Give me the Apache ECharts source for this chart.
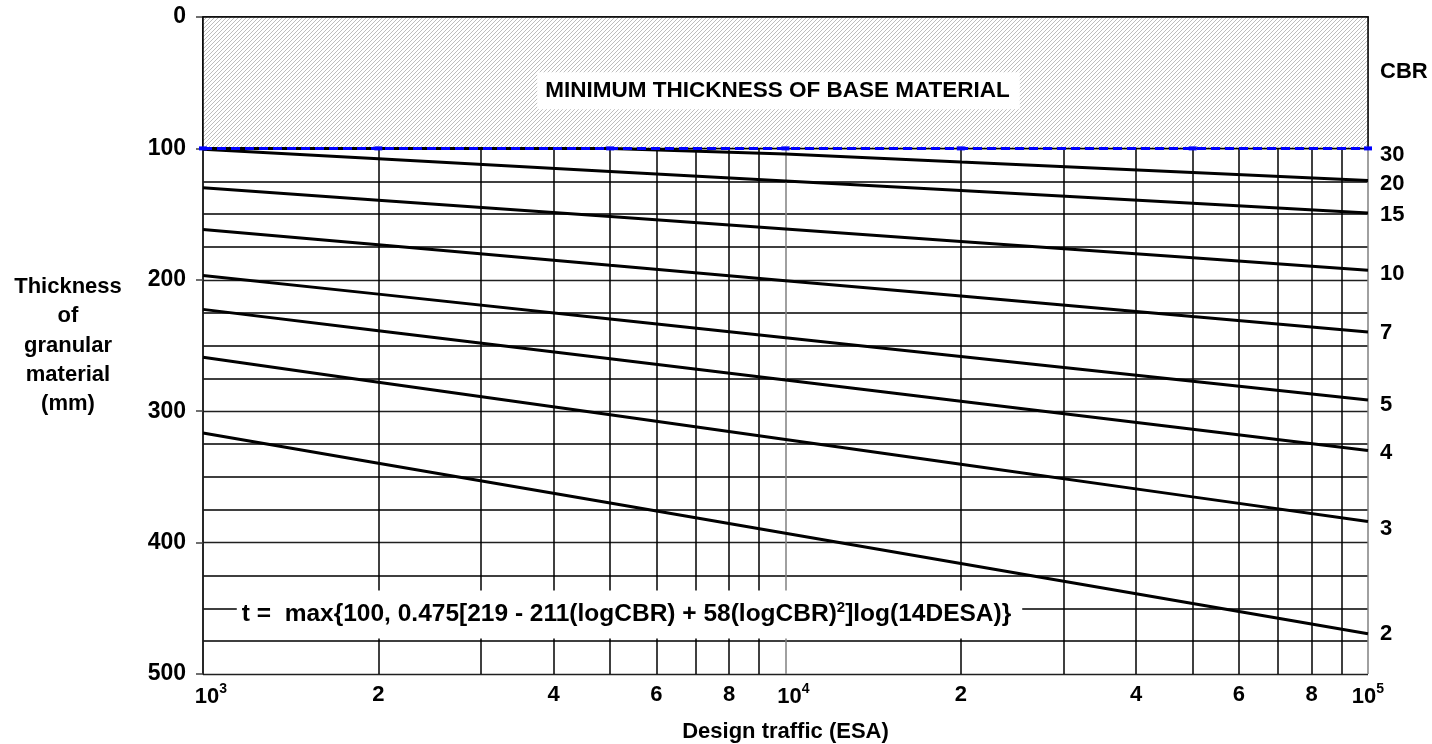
<!DOCTYPE html>
<html><head><meta charset="utf-8">
<script src="https://cdn.jsdelivr.net/npm/echarts@6/dist/echarts.min.js"></script>
<style>html,body{margin:0;padding:0;background:#fff}#c{width:1432px;height:744px}</style>
</head><body><div id="c"></div>
<script>
// ---- data ----
const traffic = [1000, 2000, 5000, 10000, 20000, 50000, 100000];   // design traffic (ESA)
const cbr30 = [100, 100, 100, 100, 100, 100, 100];
const cbr20 = [100, 100, 100, 104.3, 110.4, 118.4, 124.5];
const cbr15 = [100.6, 107.9, 117.5, 124.8, 132.1, 141.8, 149.1];
const cbr10 = [130.0, 139.4, 151.9, 161.3, 170.8, 183.2, 192.7];
const cbr7  = [161.7, 173.4, 189.0, 200.7, 212.4, 228.0, 239.7];
const cbr5  = [196.7, 210.9, 229.8, 244.1, 258.4, 277.2, 291.5];
const cbr4  = [222.5, 238.7, 260.0, 276.2, 292.4, 313.7, 329.9];
const cbr3  = [259.0, 277.9, 302.7, 321.5, 340.3, 365.2, 384.0];
const cbr2  = [316.6, 339.6, 369.9, 392.9, 415.9, 446.3, 469.3];
const cbrNames = ['20', '15', '10', '7', '5', '4', '3', '2'];
const cbrSeries = [cbr20, cbr15, cbr10, cbr7, cbr5, cbr4, cbr3, cbr2];
const xLabelValues = [1000, 2000, 4000, 6000, 8000, 10000, 20000, 40000, 60000, 80000, 100000];
const xMinorGrid = [2000, 3000, 4000, 5000, 6000, 7000, 8000, 9000, 20000, 30000, 40000, 50000, 60000, 70000, 80000, 90000];
const yMin = 0, yMax = 500, yStep = 100;
const minLabel = 'MINIMUM THICKNESS OF BASE MATERIAL';
const formulaText = 't =  max{100, 0.475[219 - 211(logCBR) + 58(logCBR){s|2}]log(14DESA)}';
const yName = 'Thickness\nof\ngranular\nmaterial\n(mm)';
const xName = 'Design traffic (ESA)';

// ---- styling ----
const FONT = '"Liberation Sans", Arial, Helvetica, sans-serif';
const labelDy = {'30': 7, '20': 3, '15': 2, '10': 4, '7': 1, '5': 5, '4': 2, '3': 7, '2': 0};

function hatchCanvas() {
  const c = document.createElement('canvas');
  c.width = 4; c.height = 4;
  const g = c.getContext('2d');
  g.fillStyle = '#ffffff'; g.fillRect(0, 0, 4, 4);
  g.strokeStyle = '#bdbdbd'; g.lineWidth = 1;
  g.beginPath();
  g.moveTo(0, 4); g.lineTo(4, 0);
  g.moveTo(-1, 1); g.lineTo(1, -1);
  g.moveTo(3, 5); g.lineTo(5, 3);
  g.stroke();
  return c;
}

const pairs = arr => traffic.map((t, i) => [t, arr[i]]);

const chart = echarts.init(document.getElementById('c'), null, {renderer: 'canvas'});

const series = [];
// minor vertical grid lines
series.push({
  type: 'line', name: 'grid', data: [], z: 1, silent: true,
  markLine: {
    silent: true, symbol: ['none', 'none'], animation: false, z: 1,
    label: {show: false},
    lineStyle: {color: '#000', width: 1.5, type: 'solid'},
    emphasis: {disabled: true},
    data: xMinorGrid.map(v => ({xAxis: v}))
  }
});
// hatched minimum-thickness band
series.push({
  type: 'line', name: 'hatch', data: [], z: 2, silent: true,
  markArea: {
    silent: true, animation: false, z: 2,
    itemStyle: {color: {image: hatchCanvas(), repeat: 'repeat'}, borderColor: '#000', borderWidth: 1.5, opacity: 1},
    label: {
      show: true, position: 'inside', formatter: minLabel, offset: [-7, 8],
      color: '#000', fontFamily: FONT, fontWeight: 'bold', fontSize: 22.5,
      backgroundColor: '#fff', padding: [7, 10, 7, 8]
    },
    emphasis: {disabled: true},
    data: [[{xAxis: traffic[0], yAxis: 0}, {xAxis: traffic[traffic.length - 1], yAxis: 100}]]
  }
});
cbrSeries.forEach((arr, i) => {
  const nm = cbrNames[i];
  series.push({
    type: 'line', name: nm, data: pairs(arr), z: 3,
    showSymbol: false, symbol: 'none', silent: true, animation: false,
    lineStyle: {color: '#000', width: 3},
    endLabel: {
      show: true, formatter: nm, distance: 12, offset: [0, labelDy[nm]],
      color: '#000', fontFamily: FONT, fontWeight: 'bold', fontSize: 22
    }
  });
});
series.push({
  type: 'line', name: '30', data: pairs(cbr30), z: 10,
  showSymbol: true, symbol: 'rect', symbolSize: [8, 4], silent: true, animation: false,
  itemStyle: {color: '#0000ff'},
  lineStyle: {color: '#0000ff', width: 3, type: [9, 5]},
  endLabel: {
    show: true, formatter: '30', distance: 12, offset: [0, labelDy['30']],
    color: '#000', fontFamily: FONT, fontWeight: 'bold', fontSize: 22
  }
});

function xFmt(v) {
  const e = Math.round(Math.log10(v));
  if (Math.abs(v - Math.pow(10, e)) < 1e-6 * v) {
    return (e < 5 ? '{bs|10}' : '{b|10}') + '{s|' + e + '}';
  }
  const p = Math.pow(10, Math.floor(Math.log10(v) + 1e-9));
  return '{n|' + Math.round(v / p) + '}';
}

const option = {
  backgroundColor: '#fff',
  animation: false,
  grid: {left: 203, right: 64, top: 17, bottom: 70, containLabel: false, outerBoundsMode: 'none'},
  xAxis: {
    type: 'log', logBase: 10, min: traffic[0], max: traffic[traffic.length - 1],
    name: xName, nameLocation: 'middle', nameGap: 47,
    nameTextStyle: {color: '#000', fontFamily: FONT, fontWeight: 'bold', fontSize: 22},
    axisLine: {show: true, lineStyle: {color: '#404040', width: 2}},
    axisTick: {show: true, length: 7, lineStyle: {color: '#404040', width: 1.5}, customValues: [1000, 10000, 100000]},
    axisLabel: {
      show: true, customValues: xLabelValues, margin: 8, formatter: xFmt,
      color: '#000', fontFamily: FONT, fontWeight: 'bold', fontSize: 22,
      rich: {
        n: {fontFamily: FONT, fontWeight: 'bold', fontSize: 22, lineHeight: 26, verticalAlign: 'middle', color: '#000'},
        b: {fontFamily: FONT, fontWeight: 'bold', fontSize: 22, lineHeight: 26, verticalAlign: 'bottom', color: '#000'},
        bs: {fontFamily: FONT, fontWeight: 'bold', fontSize: 22, lineHeight: 26, verticalAlign: 'bottom', color: '#000', padding: [0, 0, 0, 16]},
        s: {fontFamily: FONT, fontWeight: 'bold', fontSize: 14, lineHeight: 26, verticalAlign: 'top', color: '#000'}
      }
    },
    splitLine: {show: true, lineStyle: {color: '#808080', width: 1.5}},
    minorTick: {show: false},
    minorSplitLine: {show: false}
  },
  yAxis: {
    type: 'value', inverse: true, min: yMin, max: yMax, interval: yStep,
    name: yName, nameLocation: 'middle', nameRotate: 0, nameGap: 135,
    nameTextStyle: {color: '#000', fontFamily: FONT, fontWeight: 'bold', fontSize: 22, lineHeight: 29.3, align: 'center', verticalAlign: 'middle', padding: [0, 0, 23, 0]},
    axisLine: {show: true, lineStyle: {color: '#000', width: 1.5}},
    axisTick: {show: true, length: 7, lineStyle: {color: '#404040', width: 1.5}},
    axisLabel: {show: true, margin: 17, color: '#000', fontFamily: FONT, fontWeight: 'bold', fontSize: 23},
    splitLine: {show: true, lineStyle: {color: '#202020', width: 1.3}},
    minorTick: {show: false, splitNumber: 4},
    minorSplitLine: {show: true, lineStyle: {color: '#000', width: 1.5}}
  },
  graphic: [
    {
      type: 'text', x: 629.5, y: 614.5, z: 100, silent: true,
      style: {
        text: formulaText, align: 'center', verticalAlign: 'middle',
        fill: '#000', font: 'bold 24.5px ' + FONT,
        backgroundColor: '#fff', padding: [10, 11, 10, 5],
        rich: {s: {font: 'bold 15px ' + FONT, fill: '#000', verticalAlign: 'top', lineHeight: 28}}
      }
    },
    {
      type: 'text', x: 1380, y: 72, z: 100, silent: true,
      style: {text: 'CBR', align: 'left', verticalAlign: 'middle', fill: '#000', font: 'bold 22px ' + FONT}
    }
  ],
  series: series
};
chart.setOption(option);
</script>
</body></html>
